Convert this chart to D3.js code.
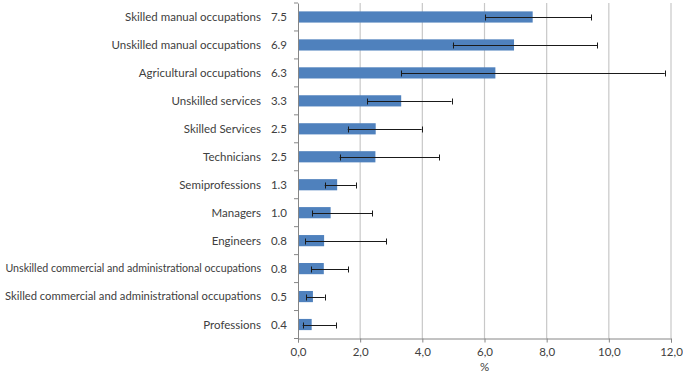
<!DOCTYPE html>
<html><head><meta charset="utf-8">
<script src="https://cdn.jsdelivr.net/npm/d3@7"></script>
<style>body{margin:0;background:#fff;} text{font-family:Lato, "Open Sans", sans-serif; fill:#404040;}</style>
</head><body><svg id="c" width="683" height="373"></svg>
<script>
const categories = ["Skilled manual occupations","Unskilled manual occupations","Agricultural occupations","Unskilled services","Skilled Services","Technicians","Semiprofessions","Managers","Engineers","Unskilled commercial and administrational occupations","Skilled commercial and administrational occupations","Professions"];
const valueLabels = ["7.5","6.9","6.3","3.3","2.5","2.5","1.3","1.0","0.8","0.8","0.5","0.4"];
const values = [7.55,6.95,6.35,3.32,2.5,2.49,1.26,1.05,0.84,0.83,0.48,0.44];
const errLow = [6.02,4.98,3.32,2.23,1.60,1.34,0.86,0.46,0.24,0.42,0.26,0.15];
const errHigh = [9.44,9.62,11.8,4.94,3.98,4.55,1.86,2.39,2.84,1.62,0.86,1.22];
const xTicks = [0,2,4,6,8,10,12];
const xTitle = "%";

const svg = d3.select("#c");
const m = {l:298, r:671, t:3, b:338.5};
const x = d3.scaleLinear().domain([0,12]).range([m.l, m.r]);
const y = d3.scaleBand().domain(categories).range([m.t, m.b]).paddingInner(0.6).paddingOuter(0.3);
const band = d3.scaleBand().domain(categories).range([m.t, m.b]);

svg.append("g").selectAll("line").data(xTicks.slice(1)).join("line")
  .attr("x1", d=>x(d)).attr("x2", d=>x(d)).attr("y1", m.t).attr("y2", m.b)
  .attr("stroke", "#c8c8c8").attr("stroke-width", 1.2);

svg.append("g").selectAll("rect").data(categories).join("rect")
  .attr("x", x(0)).attr("y", (d)=>y(d))
  .attr("width", (d,i)=>x(values[i])-x(0)).attr("height", y.bandwidth())
  .attr("fill", "#4F81BD");

const eg = svg.append("g").attr("stroke", "#1a1a1a").attr("stroke-width", 1);
categories.forEach((c,i)=>{
  const cy = Math.round(y(c)+y.bandwidth()/2)+0.5;
  eg.append("line").attr("x1", x(errLow[i])).attr("x2", x(errHigh[i])).attr("y1", cy).attr("y2", cy);
  [errLow[i], errHigh[i]].forEach(v=>{
    eg.append("line").attr("x1", Math.round(x(v))+0.5).attr("x2", Math.round(x(v))+0.5).attr("y1", cy-3).attr("y2", cy+3);
  });
});

const ya = svg.append("g").attr("transform", `translate(${m.l},0)`)
  .call(d3.axisLeft(band).tickSize(0).tickFormat(""));
ya.select(".domain").attr("stroke", "#868686");
svg.append("g").selectAll("line").data(d3.range(categories.length+1)).join("line")
  .attr("x1", m.l-4).attr("x2", m.l).attr("y1", i=>m.t+i*band.step()).attr("y2", i=>m.t+i*band.step())
  .attr("stroke", "#868686");

const xa = svg.append("g").attr("transform", `translate(0,${m.b})`)
  .call(d3.axisBottom(x).tickValues(xTicks).tickSize(4).tickFormat(d=>d3.format(".1f")(d).replace(".",",")));
xa.select(".domain").attr("stroke", "#868686");
xa.selectAll(".tick line").attr("stroke", "#868686");
xa.selectAll(".tick text").attr("font-size", 11.5).attr("dy", "0.95em").style("font-family","Lato").attr("fill","#404040");

const labels = svg.append("g").selectAll("text").data(categories).join("text")
  .attr("x", 261).attr("y", d=>band(d)+band.bandwidth()/2).attr("dy","0.35em")
  .attr("text-anchor","end").attr("font-size", 11.5).text(d=>d);
labels.each(function(){
  const w = this.getComputedTextLength();
  if (w > 256) d3.select(this).attr("font-size", 11.5*256/w);
});
svg.append("g").selectAll("text").data(categories).join("text")
  .attr("x", 287).attr("y", d=>band(d)+band.bandwidth()/2).attr("dy","0.35em")
  .attr("text-anchor","end").attr("font-size", 11.5).text((d,i)=>valueLabels[i]);

svg.append("text").attr("x", x(6)).attr("y", 367).attr("dy","0.35em").attr("text-anchor","middle")
  .attr("font-size", 11.5).text(xTitle);
</script></body></html>
